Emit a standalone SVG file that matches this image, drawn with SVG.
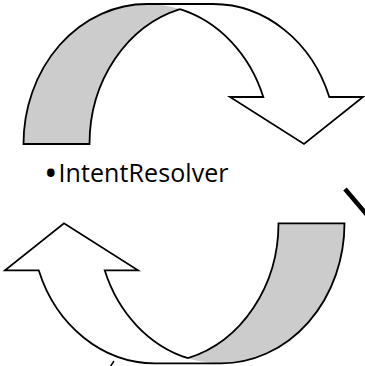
<svg xmlns="http://www.w3.org/2000/svg" width="365" height="366" viewBox="0 0 365 366">
  <style>
    .band { fill: #cccccc; stroke: none; }
    .face { fill: #ffffff; stroke: none; }
    .edge { fill: none; stroke: #000; stroke-width: 1.8; stroke-linejoin: miter; }
    .label { font-family: "Open Sans", "Liberation Sans", sans-serif; font-size: 25px; fill: #000; }
  </style>
  <defs>
    <!-- curved arrow built from two equal ellipses (rx 123.5, ry 140)
         centred at (147,144) and (213,144); fills first, then one outline -->
    <g id="curved-arrow">
      <path class="face" d="M263.3,97 A123.5,140 0 0 0 147,4 L213,4 A123.5,140 0 0 1 329.3,97 L363,97 L304,144 L230,97 Z"/>
      <path class="band" d="M180,9.1 A123.5,140 0 0 0 89.5,144 L23.5,144 A123.5,140 0 0 1 180,9.1 Z"/>
      <path class="edge" d="M180,9.1 A123.5,140 0 0 0 89.5,144 L23.5,144 A123.5,140 0 0 1 147,4 L213,4 A123.5,140 0 0 1 329.3,97 L363,97 L304,144 L230,97 L263.3,97 A123.5,140 0 0 0 180,9.1"/>
    </g>
  </defs>

  <g id="arrow-top">
    <use href="#curved-arrow"/>
  </g>

  <g id="arrow-bottom">
    <use href="#curved-arrow" transform="rotate(180 184 183.65)"/>
  </g>

  <g id="label-intent-resolver">
    <text class="label" x="44" y="182"><tspan font-size="36" dy="4">•</tspan><tspan dy="-4" dx="1" textLength="170">IntentResolver</tspan></text>
  </g>

  <g id="connectors">
    <line x1="345" y1="189" x2="368" y2="216" stroke="#000" stroke-width="4.5"/>
    <line x1="110" y1="367" x2="114" y2="361" stroke="#000" stroke-width="1.5"/>
  </g>
</svg>
